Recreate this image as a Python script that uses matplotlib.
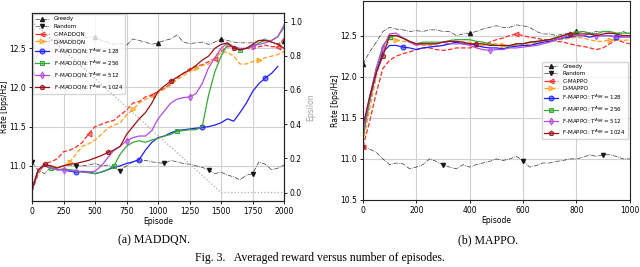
import numpy as np
import matplotlib
matplotlib.use("Agg")
import matplotlib.pyplot as plt

# ---- data: MADDQN (left), one value every 50 episodes ----
ep_dqn = np.arange(0, 2001, 50)
greedy_dqn = [12.20, 12.45, 12.58, 12.60, 12.62, 12.60, 12.62, 12.60, 12.63, 12.64,
              12.65, 12.60, 12.58, 12.55, 12.56, 12.54, 12.62, 12.60, 12.58, 12.55,
              12.57, 12.60, 12.62, 12.67, 12.58, 12.56, 12.57, 12.58, 12.55, 12.58,
              12.62, 12.60, 12.58, 12.57, 12.57, 12.57, 12.60, 12.62, 12.58, 12.56, 12.59]
random_dqn = [11.05, 10.94, 10.90, 10.99, 10.98, 11.00, 11.01, 11.00, 11.00, 11.01,
              11.03, 11.00, 11.01, 10.98, 10.94, 11.00, 11.05, 11.06, 11.07, 11.05,
              11.04, 11.03, 11.07, 11.05, 11.03, 11.02, 11.00, 10.98, 10.95, 10.90,
              10.92, 10.88, 10.86, 10.82, 10.88, 10.90, 11.05, 11.02, 10.95, 10.97, 11.01]
c_maddqn = [10.67, 10.90, 11.03, 11.05, 11.09, 11.18, 11.20, 11.24, 11.30, 11.41,
            11.50, 11.53, 11.56, 11.58, 11.65, 11.71, 11.80, 11.82, 11.88, 11.90,
            11.95, 11.99, 12.05, 12.12, 12.18, 12.24, 12.27, 12.29, 12.33, 12.37,
            12.46, 12.52, 12.52, 12.48, 12.50, 12.49, 12.52, 12.54, 12.52, 12.52, 12.63]
d_maddqn = [10.70, 10.92, 11.00, 11.00, 10.98, 11.00, 11.05, 11.15, 11.25, 11.28,
            11.33, 11.40, 11.48, 11.52, 11.55, 11.65, 11.72, 11.80, 11.85, 11.88,
            11.93, 11.98, 12.03, 12.10, 12.15, 12.20, 12.25, 12.28, 12.30, 12.38,
            12.45, 12.45, 12.40, 12.30, 12.30, 12.33, 12.35, 12.38, 12.40, 12.42, 12.46]
f_maddqn_128 = [10.70, 10.95, 11.00, 10.97, 10.95, 10.95, 10.93, 10.92, 10.93, 10.92,
                10.90, 10.92, 10.95, 10.98, 11.00, 11.03, 11.05, 11.08, 11.20, 11.30,
                11.36, 11.38, 11.42, 11.45, 11.46, 11.47, 11.48, 11.49, 11.50, 11.52,
                11.55, 11.60, 11.57, 11.68, 11.80, 11.95, 12.05, 12.12, 12.18, 12.27, np.nan]
f_maddqn_256 = [10.70, 10.95, 11.00, 10.97, 10.95, 10.96, 10.95, 10.94, 10.92, 10.91,
                10.90, 10.92, 10.95, 11.00, 11.15, 11.25, 11.30, 11.32, 11.30, 11.33,
                11.35, 11.38, 11.40, 11.44, 11.45, 11.46, 11.46, 11.50, 11.90, 12.20,
                12.40, 12.55, 12.52, 12.48, 12.50, 12.52, 12.57, 12.60, 12.60, 12.65, 12.77]
f_maddqn_512 = [10.70, 10.95, 11.00, 10.97, 10.95, 10.95, 10.94, 10.93, 10.92, 10.92,
                10.93, 11.00, 11.10, 11.20, 11.25, 11.32, 11.36, 11.38, 11.38, 11.45,
                11.60, 11.70, 11.80, 11.85, 11.87, 11.88, 11.92, 12.05, 12.25, 12.38,
                12.50, 12.57, 12.52, 12.50, 12.50, 12.53, 12.55, 12.57, 12.60, 12.65, 12.80]
f_maddqn_1024 = [10.70, 10.95, 11.02, 11.00, 10.97, 11.00, 11.02, 11.03, 11.05, 11.07,
                 11.10, 11.13, 11.17, 11.20, 11.25, 11.40, 11.50, 11.60, 11.68, 11.80,
                 11.95, 12.02, 12.08, 12.13, 12.18, 12.22, 12.28, 12.35, 12.40, 12.50,
                 12.55, 12.57, 12.50, 12.48, 12.50, 12.55, 12.60, 12.60, 12.58, 12.55, 12.50]
eps_x = [0, 1500, 2000]
eps_y = [1.0, 0.0, 0.0]

# ---- data: MAPPO (right), one value every 25 episodes ----
ep_ppo = np.arange(0, 1001, 25)
greedy_ppo = [12.15, 12.30, 12.42, 12.55, 12.60, 12.58, 12.57, 12.55, 12.56, 12.55,
              12.57, 12.57, 12.55, 12.55, 12.50, 12.52, 12.53, 12.55, 12.58, 12.60,
              12.62, 12.60, 12.60, 12.63, 12.62, 12.60, 12.55, 12.52, 12.52, 12.50,
              12.52, 12.53, 12.55, 12.55, 12.53, 12.55, 12.55, 12.53, 12.52, 12.55, 12.52]
random_ppo = [11.15, 11.12, 11.08, 11.00, 10.93, 10.95, 10.94, 10.88, 10.90, 10.93,
              11.00, 10.97, 10.93, 10.90, 10.88, 10.93, 10.90, 10.93, 10.95, 10.97,
              11.00, 10.98, 11.00, 11.03, 10.98, 10.90, 10.92, 10.95, 10.95, 10.97,
              10.98, 11.00, 11.00, 11.02, 11.05, 11.03, 11.05, 11.05, 11.03, 11.00, 11.00]
c_mappo = [11.15, 11.45, 11.80, 12.10, 12.20, 12.25, 12.28, 12.30, 12.33, 12.35,
           12.35, 12.33, 12.32, 12.33, 12.35, 12.35, 12.35, 12.36, 12.38, 12.42,
           12.45, 12.47, 12.50, 12.52, 12.50, 12.48, 12.47, 12.45, 12.45, 12.43,
           12.42, 12.40, 12.38, 12.37, 12.35, 12.33, 12.35, 12.40, 12.45, 12.42, 12.40]
d_mappo = [11.20, 11.60, 12.00, 12.30, 12.45, 12.45, 12.43, 12.42, 12.40, 12.38,
           12.38, 12.37, 12.38, 12.40, 12.42, 12.42, 12.42, 12.40, 12.38, 12.40,
           12.40, 12.38, 12.37, 12.38, 12.38, 12.40, 12.40, 12.42, 12.43, 12.45,
           12.45, 12.47, 12.48, 12.47, 12.45, 12.43, 12.43, 12.45, 12.45, 12.44, 12.45]
f_mappo_128 = [11.30, 11.70, 12.05, 12.30, 12.38, 12.38, 12.36, 12.35, 12.33, 12.35,
               12.36, 12.37, 12.38, 12.40, 12.42, 12.40, 12.40, 12.38, 12.36, 12.35,
               12.35, 12.34, 12.36, 12.37, 12.38, 12.38, 12.40, 12.42, 12.43, 12.45,
               12.47, 12.48, 12.50, 12.50, 12.48, 12.50, 12.50, 12.50, 12.48, 12.50, 12.50]
f_mappo_256 = [11.25, 11.70, 12.10, 12.38, 12.48, 12.50, 12.47, 12.43, 12.40, 12.42,
               12.42, 12.42, 12.42, 12.44, 12.45, 12.45, 12.45, 12.43, 12.42, 12.40,
               12.38, 12.38, 12.37, 12.40, 12.40, 12.42, 12.42, 12.44, 12.45, 12.48,
               12.50, 12.52, 12.53, 12.55, 12.53, 12.52, 12.55, 12.55, 12.53, 12.53, 12.53]
f_mappo_512 = [11.30, 11.75, 12.10, 12.35, 12.52, 12.53, 12.47, 12.42, 12.38, 12.40,
               12.40, 12.40, 12.42, 12.40, 12.40, 12.40, 12.38, 12.35, 12.33, 12.32,
               12.33, 12.33, 12.35, 12.35, 12.36, 12.37, 12.38, 12.40, 12.42, 12.45,
               12.48, 12.50, 12.50, 12.50, 12.52, 12.50, 12.50, 12.50, 12.48, 12.48, 12.48]
f_mappo_1024 = [11.40, 11.75, 12.05, 12.25, 12.50, 12.50, 12.47, 12.43, 12.40, 12.40,
                12.40, 12.40, 12.42, 12.43, 12.43, 12.42, 12.40, 12.40, 12.40, 12.38,
                12.38, 12.38, 12.38, 12.40, 12.40, 12.42, 12.43, 12.44, 12.45, 12.47,
                12.50, 12.52, 12.52, 12.52, 12.52, 12.50, 12.52, 12.53, 12.52, 12.50, 12.50]

agg = ["128", "256", "512", "1024"]

# styles: (color, linestyle, marker)
base_styles = [("black", "-.", "^"), ("black", "-.", "v")]
alg_styles = [("#ff2a2a", "--", "<"), ("#ff9f1c", "--", ">"),
              ("#1f1fff", "-", "o"), ("#33aa33", "-", "s"),
              ("#b44be1", "-", "d"), ("#9b1111", "-", "p")]

fig = plt.figure(figsize=(6.4, 2.67), dpi=100)
ax1 = fig.add_axes([0.05, 0.247, 0.394, 0.704])
ax2 = fig.add_axes([0.567, 0.251, 0.417, 0.745])

fs = 5.5


def draw(ax, x, base, algs, labels, marks):
    for i, y in enumerate(base):
        c, ls, m = base_styles[i]
        ax.plot(x, y, color=c, ls=ls, lw=0.5, marker=m, ms=3, alpha=0.8,
                markevery=marks[i], label=labels[i])
    for i, y in enumerate(algs):
        c, ls, m = alg_styles[i]
        ax.plot(x, y, color=c, ls=ls, lw=0.9, marker=m, ms=3.5,
                mfc=matplotlib.colors.to_rgba(c, 0.5), mec=c, mew=0.7,
                markevery=marks[i + 2], label=labels[i + 2])
    ax.grid(True, color="#d0d0d0", lw=0.8)
    ax.set_axisbelow(True)
    ax.tick_params(labelsize=fs, length=2.5, width=0.6, pad=1.5)
    for s in ax.spines.values():
        s.set_linewidth(0.8)
        s.set_color("#222222")
    ax.set_xlabel("Episode", fontsize=fs, labelpad=1)
    ax.set_ylabel("Rate [bps/Hz]", fontsize=fs, labelpad=0.5)


labels_dqn = ["Greedy", "Random", "C-MADDQN", "D-MADDQN"] + \
             ["F-MADDQN: $T^{Agg} = %s$" % a for a in agg]
marks_dqn = [(0, 10), (0, 7), (9, 10), (6, 10), (7, 10), (3, 10), (5, 10), (2, 10)]
draw(ax1, ep_dqn, [greedy_dqn, random_dqn],
     [c_maddqn, d_maddqn, f_maddqn_128, f_maddqn_256, f_maddqn_512, f_maddqn_1024],
     labels_dqn, marks_dqn)
ax1.set_xlim(0, 2000)
ax1.set_ylim(10.55, 12.95)
ax1.set_xticks(np.arange(0, 2001, 250))
ax1.set_yticks([11.0, 11.5, 12.0, 12.5])
ax1.legend(loc="upper left", fontsize=4.1, framealpha=0.8, borderpad=0.4,
           labelspacing=0.45, handlelength=2.4, borderaxespad=0.2)

ax1b = ax1.twinx()
ax1b.plot(eps_x, eps_y, color="#b0b0b0", ls=":", lw=0.9)
ax1b.set_ylim(-0.05, 1.05)
ax1b.set_yticks([0.0, 0.2, 0.4, 0.6, 0.8, 1.0])
ax1b.tick_params(labelsize=fs, length=2.5, width=0.6, pad=1.5)
ax1b.set_ylabel("Epsilon", fontsize=fs, color="#a0a0a0", labelpad=3)
for s in ax1b.spines.values():
    s.set_linewidth(0.8)
    s.set_color("#222222")

labels_ppo = ["Greedy", "Random", "C-MAPPO", "D-MAPPO"] + \
             ["F-MAPPO: $T^{Agg} = %s$" % a for a in agg]
marks_ppo = [(0, 16), (0, 12), (0, 23), (5, 16), (6, 32), (4, 28), (3, 16), (3, 14)]
draw(ax2, ep_ppo, [greedy_ppo, random_ppo],
     [c_mappo, d_mappo, f_mappo_128, f_mappo_256, f_mappo_512, f_mappo_1024],
     labels_ppo, marks_ppo)
ax2.set_xlim(0, 1000)
ax2.set_ylim(10.5, 12.92)
ax2.set_xticks(np.arange(0, 1001, 200))
ax2.set_yticks([10.5, 11.0, 11.5, 12.0, 12.5])
ax2.legend(loc="center right", fontsize=4.1, framealpha=0.8, borderpad=0.4,
           labelspacing=0.4, handlelength=2.4, borderaxespad=0.3)

# captions
fig.text(0.24, 0.10, "(a) MADDQN.", fontsize=8.5, family="Liberation Serif",
         ha="center", va="center")
fig.text(0.762, 0.10, "(b) MAPPO.", fontsize=8.5, family="Liberation Serif",
         ha="center", va="center")
fig.text(0.5, 0.035, "Fig. 3.   Averaged reward versus number of episodes.",
         fontsize=8.5, family="Liberation Serif", ha="center", va="center")

fig.savefig("out.png", dpi=100)
